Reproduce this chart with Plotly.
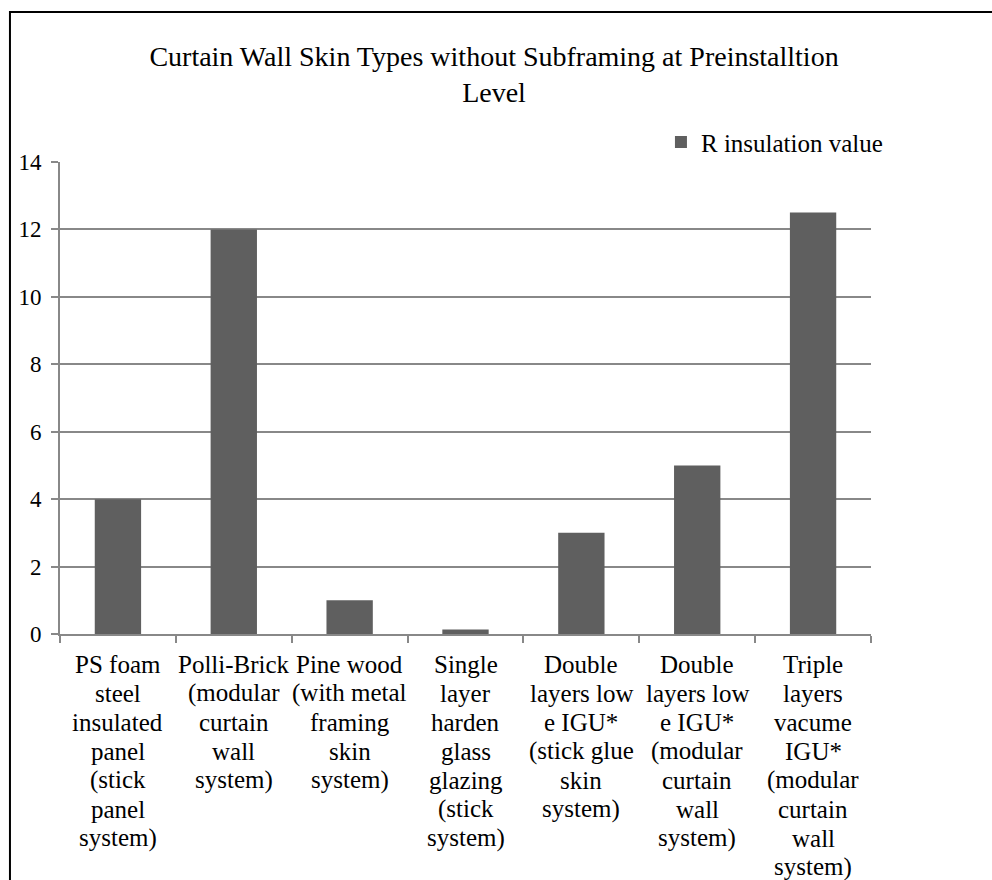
import plotly.graph_objects as go

categories = [
    "PS foam<br>steel<br>insulated<br>panel<br>(stick<br>panel<br>system)",
    "Polli-Brick<br>(modular<br>curtain<br>wall<br>system)",
    "Pine wood<br>(with metal<br>framing<br>skin<br>system)",
    "Single<br>layer<br>harden<br>glass<br>glazing<br>(stick<br>system)",
    "Double<br>layers low<br>e IGU*<br>(stick glue<br>skin<br>system)",
    "Double<br>layers low<br>e IGU*<br>(modular<br>curtain<br>wall<br>system)",
    "Triple<br>layers<br>vacume<br>IGU*<br>(modular<br>curtain<br>wall<br>system)",
]
r_values = [4, 12, 1, 0.13, 3, 5, 12.5]
y_ticks = [0, 2, 4, 6, 8, 10, 12, 14]

FONT = "Liberation Serif, Times New Roman, serif"
BAR = "#5f5f5f"
AXIS = "#888888"
LABEL_SIZE = 25
LINE_STEP = 29  # px between stacked lines of a category label

fig = go.Figure(
    go.Bar(
        x=categories,
        y=r_values,
        name="R insulation value",
        marker=dict(color=BAR, line=dict(width=0)),
        width=0.4,
        showlegend=True,
    )
)

# Category labels: one annotation per wrapped line for tight line spacing
annotations = []
for cat in categories:
    for i, line in enumerate(cat.split("<br>")):
        annotations.append(
            dict(
                x=cat,
                xref="x",
                y=0,
                yref="paper",
                yanchor="middle",
                xanchor="center",
                yshift=-(30 + LINE_STEP * i),
                text=line,
                showarrow=False,
                font=dict(family=FONT, size=LABEL_SIZE, color="black"),
            )
        )

fig.update_layout(
    width=992,
    height=880,
    paper_bgcolor="white",
    plot_bgcolor="white",
    margin=dict(l=60, r=121, t=162, b=246, autoexpand=False),
    font=dict(family=FONT, color="black", size=23),
    title=dict(
        text="Curtain Wall Skin Types without Subframing at Preinstalltion<br>Level",
        x=0.498,
        xanchor="center",
        y=0.925,
        yanchor="middle",
        font=dict(family=FONT, size=28, color="black"),
    ),
    legend=dict(
        x=0.741,
        xanchor="left",
        y=1.042,
        yanchor="middle",
        font=dict(family=FONT, size=25),
        bgcolor="rgba(0,0,0,0)",
        itemwidth=30,
    ),
    bargap=0.6,
    annotations=annotations,
    shapes=[
        dict(
            type="rect",
            xref="paper",
            yref="paper",
            x0=-0.0617,
            x1=1.2,
            y0=-0.6,
            y1=1.318,
            line=dict(color="black", width=2),
            fillcolor="rgba(0,0,0,0)",
            layer="below",
        )
    ],
)

fig.update_xaxes(
    showline=True,
    linecolor=AXIS,
    linewidth=2,
    ticks="outside",
    tickson="boundaries",
    ticklen=7,
    tickcolor=AXIS,
    tickwidth=2,
    showticklabels=False,
    showgrid=False,
)

fig.update_yaxes(
    range=[0, 14],
    tickvals=y_ticks,
    showline=True,
    linecolor=AXIS,
    linewidth=2,
    ticks="outside",
    ticklen=7,
    tickcolor=AXIS,
    tickwidth=2,
    ticklabelstandoff=5,
    showgrid=True,
    gridcolor=AXIS,
    gridwidth=2,
    zeroline=False,
    tickfont=dict(family=FONT, size=23, color="black"),
)

fig.write_html("out.html")
